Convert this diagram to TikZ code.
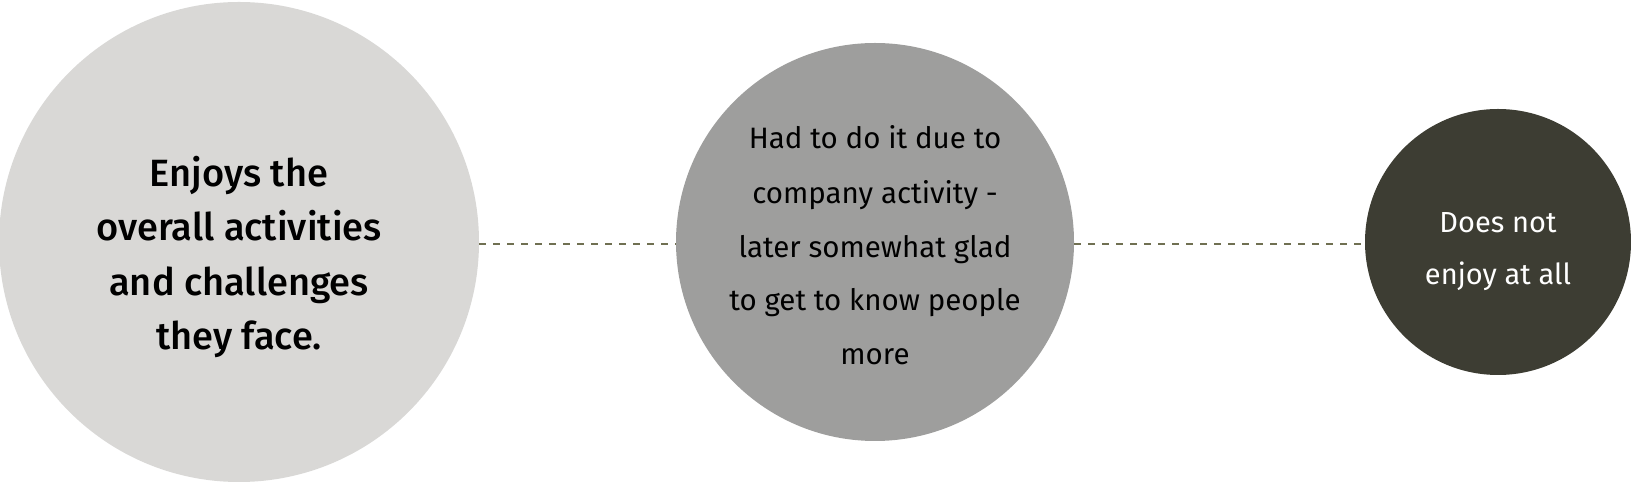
\documentclass[tikz,border=0pt]{standalone}
\usepackage{fontspec}
\setmainfont{Fira Sans}
\newfontfamily\fmed{Fira Sans}[UprightFont=* Medium]
\definecolor{cone}{RGB}{217,216,214}
\definecolor{ctwo}{RGB}{158,158,157}
\definecolor{cthree}{RGB}{61,61,51}
\definecolor{dashcol}{RGB}{112,112,82}
\begin{document}
\begin{tikzpicture}[x=1pt,y=1pt,
  disc/.style={circle,inner sep=0pt,minimum size=#1},
  bigtxt/.style={anchor=base,inner sep=0pt,font=\fmed\fontsize{38}{44}\selectfont,text=black},
  midtxt/.style={anchor=base,inner sep=0pt,font=\fontsize{29.5}{34}\selectfont,text=black},
  smalltxt/.style={anchor=base,inner sep=0pt,font=\fontsize{29}{34}\selectfont,text=white},
  link/.style={draw=dashcol,line width=2pt,dash pattern=on 7pt off 7pt}]
\useasboundingbox (0,0) rectangle (1631,484);
\node[disc=480pt,fill=cone] (c1) at (239,242) {};
\node[disc=398pt,fill=ctwo] (c2) at (875,242) {};
\node[disc=266pt,fill=cthree] (c3) at (1498,242) {};
\draw[link] ([yshift=-2pt]c1.east) -- ([yshift=-2pt]c2.west);
\draw[link] ([yshift=-2pt]c2.east) -- ([yshift=-2pt]c3.west);
\node[bigtxt] (t11) at (239,297) {Enjoys the};
\node[bigtxt] (t12) at (239,243) {overall activities};
\node[bigtxt] (t13) at (239,188) {and challenges};
\node[bigtxt] (t14) at (239,134) {they face.};
\node[midtxt] (t21) at (875,335) {Had to do it due to};
\node[midtxt] (t22) at (875,280) {company activity -};
\node[midtxt] (t23) at (875,226) {later somewhat glad};
\node[midtxt] (t24) at (875,173) {to get to know people};
\node[midtxt] (t25) at (875,119) {more};
\node[smalltxt] (t31) at (1498,251) {Does not};
\node[smalltxt] (t32) at (1498,199) {enjoy at all};
\end{tikzpicture}
\end{document}
